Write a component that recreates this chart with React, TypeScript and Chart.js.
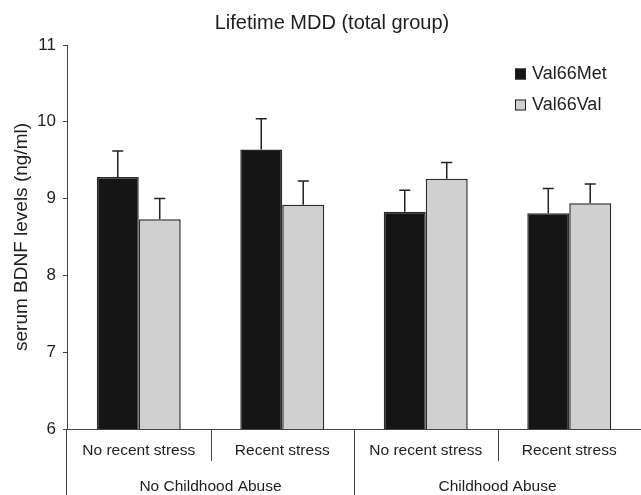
import React, { useEffect, useRef } from "react";
import { Chart, registerables } from "chart.js";

Chart.register(...registerables);

const chartTitle = "Lifetime MDD (total group)";
const yAxisTitle = "serum BDNF levels (ng/ml)";
const stressLabels = ["No recent stress", "Recent stress", "No recent stress", "Recent stress"];
const abuseGroups = ["No Childhood Abuse", "Childhood Abuse"];
const seriesNames = ["Val66Met", "Val66Val"];
const metValues = [9.28, 9.64, 8.83, 8.81];
const metSE = [0.34, 0.40, 0.28, 0.32];
const valValues = [8.73, 8.92, 9.26, 8.94];
const valSE = [0.27, 0.31, 0.21, 0.25];
const yMin = 6;
const yMax = 11;

const FONT = "'Liberation Sans', Arial, Helvetica, sans-serif";
const BLACK = "#151515";
const GRAY = "#d0d0d0";
const LINE = "#444444";
const TEXT = "#1e1e1e";

const errors = [metSE, valSE];

const decorPlugin = {
  id: "decor",
  afterDatasetsDraw(chart: any) {
    const ctx = chart.ctx;
    const y = chart.scales.y;
    ctx.save();
    ctx.strokeStyle = "#222";
    ctx.lineWidth = 1.5;
    chart.data.datasets.forEach((ds: any, i: number) => {
      const meta = chart.getDatasetMeta(i);
      meta.data.forEach((el: any, j: number) => {
        const top = y.getPixelForValue(ds.data[j] + errors[i][j]);
        ctx.beginPath();
        ctx.moveTo(el.x, el.y);
        ctx.lineTo(el.x, top);
        ctx.moveTo(el.x - 5.5, top);
        ctx.lineTo(el.x + 5.5, top);
        ctx.stroke();
      });
    });
    ctx.restore();
  },
  afterDraw(chart: any) {
    const ctx = chart.ctx;
    const area = chart.chartArea;
    const W = chart.width;
    const H = chart.height;
    const x = chart.scales.x;
    ctx.save();
    // title
    ctx.fillStyle = TEXT;
    ctx.font = `20px ${FONT}`;
    ctx.textAlign = "center";
    ctx.textBaseline = "middle";
    ctx.fillText(chartTitle, 332, 23);

    // axes lines
    ctx.strokeStyle = LINE;
    ctx.lineWidth = 1;
    ctx.beginPath();
    ctx.moveTo(area.left - 4, Math.round(area.bottom) + 0.5);
    ctx.lineTo(W, Math.round(area.bottom) + 0.5);
    ctx.moveTo(Math.round(area.left) - 0.5, area.bottom);
    ctx.lineTo(Math.round(area.left) - 0.5, H);
    ctx.stroke();

    // separators
    const n = stressLabels.length;
    const step = (area.right - area.left) / n;
    ctx.beginPath();
    for (let k = 1; k < n; k++) {
      const sx = Math.round(area.left + k * step) + 0.5;
      const major = k === n / 2;
      ctx.moveTo(sx, area.bottom);
      ctx.lineTo(sx, major ? H : area.bottom + 32);
    }
    ctx.stroke();

    // category labels
    ctx.fillStyle = TEXT;
    ctx.font = `15.5px ${FONT}`;
    ctx.textAlign = "center";
    ctx.textBaseline = "middle";
    stressLabels.forEach((lab, k) => {
      ctx.fillText(lab, x.getPixelForValue(k), area.bottom + 22);
    });
    abuseGroups.forEach((lab, g) => {
      const cx = area.left + (g * 2 + 1) * step;
      ctx.fillText(lab, cx, area.bottom + 58);
    });

    // legend
    const colors = [BLACK, GRAY];
    ctx.font = `18px ${FONT}`;
    ctx.textAlign = "left";
    seriesNames.forEach((name, i) => {
      const ly = 74 + i * 31;
      ctx.fillStyle = colors[i];
      ctx.fillRect(515, ly - 5.5, 11, 11);
      ctx.strokeStyle = "#222";
      ctx.lineWidth = 1;
      ctx.strokeRect(515.5, ly - 5, 10, 10);
      ctx.fillStyle = TEXT;
      ctx.fillText(name, 532, ly);
    });
    ctx.restore();
  },
};

export default function App() {
  const ref = useRef<HTMLCanvasElement>(null);
  useEffect(() => {
    if (!ref.current) return;
    const chart = new Chart(ref.current, {
      type: "bar",
      data: {
        labels: stressLabels,
        datasets: [
          {
            label: seriesNames[0],
            data: metValues,
            backgroundColor: BLACK,
            borderColor: "#2a2a2a",
            borderWidth: 1.5,
            categoryPercentage: 0.585,
            barPercentage: 1,
          },
          {
            label: seriesNames[1],
            data: valValues,
            backgroundColor: GRAY,
            borderColor: "#2a2a2a",
            borderWidth: 1.5,
            categoryPercentage: 0.585,
            barPercentage: 1,
          },
        ],
      },
      options: {
        responsive: false,
        animation: false,
        devicePixelRatio: 1,
        layout: { padding: { top: 45, bottom: 66, left: 0, right: 0 } },
        plugins: {
          legend: { display: false },
          title: { display: false },
          tooltip: { enabled: false },
        },
        scales: {
          x: { display: false },
          y: {
            min: yMin,
            max: yMax,
            ticks: {
              stepSize: 1,
              color: TEXT,
              font: { size: 17, family: FONT },
              padding: 7,
            },
            grid: { drawOnChartArea: false, drawTicks: true, tickLength: 4, color: LINE },
            border: { color: LINE, width: 1 },
            title: {
              display: true,
              text: yAxisTitle,
              color: TEXT,
              font: { size: 19, family: FONT },
              padding: { top: 10, bottom: 0 },
            },
            afterFit: (s: any) => {
              s.width = 67;
            },
          },
        },
      },
      plugins: [decorPlugin],
    } as any);
    return () => chart.destroy();
  }, []);
  return (
    <div style={{ position: "fixed", left: 0, top: 0, width: 641, height: 495, background: "#fff" }}>
      <canvas ref={ref} width={641} height={495} style={{ display: "block" }} />
    </div>
  );
}
